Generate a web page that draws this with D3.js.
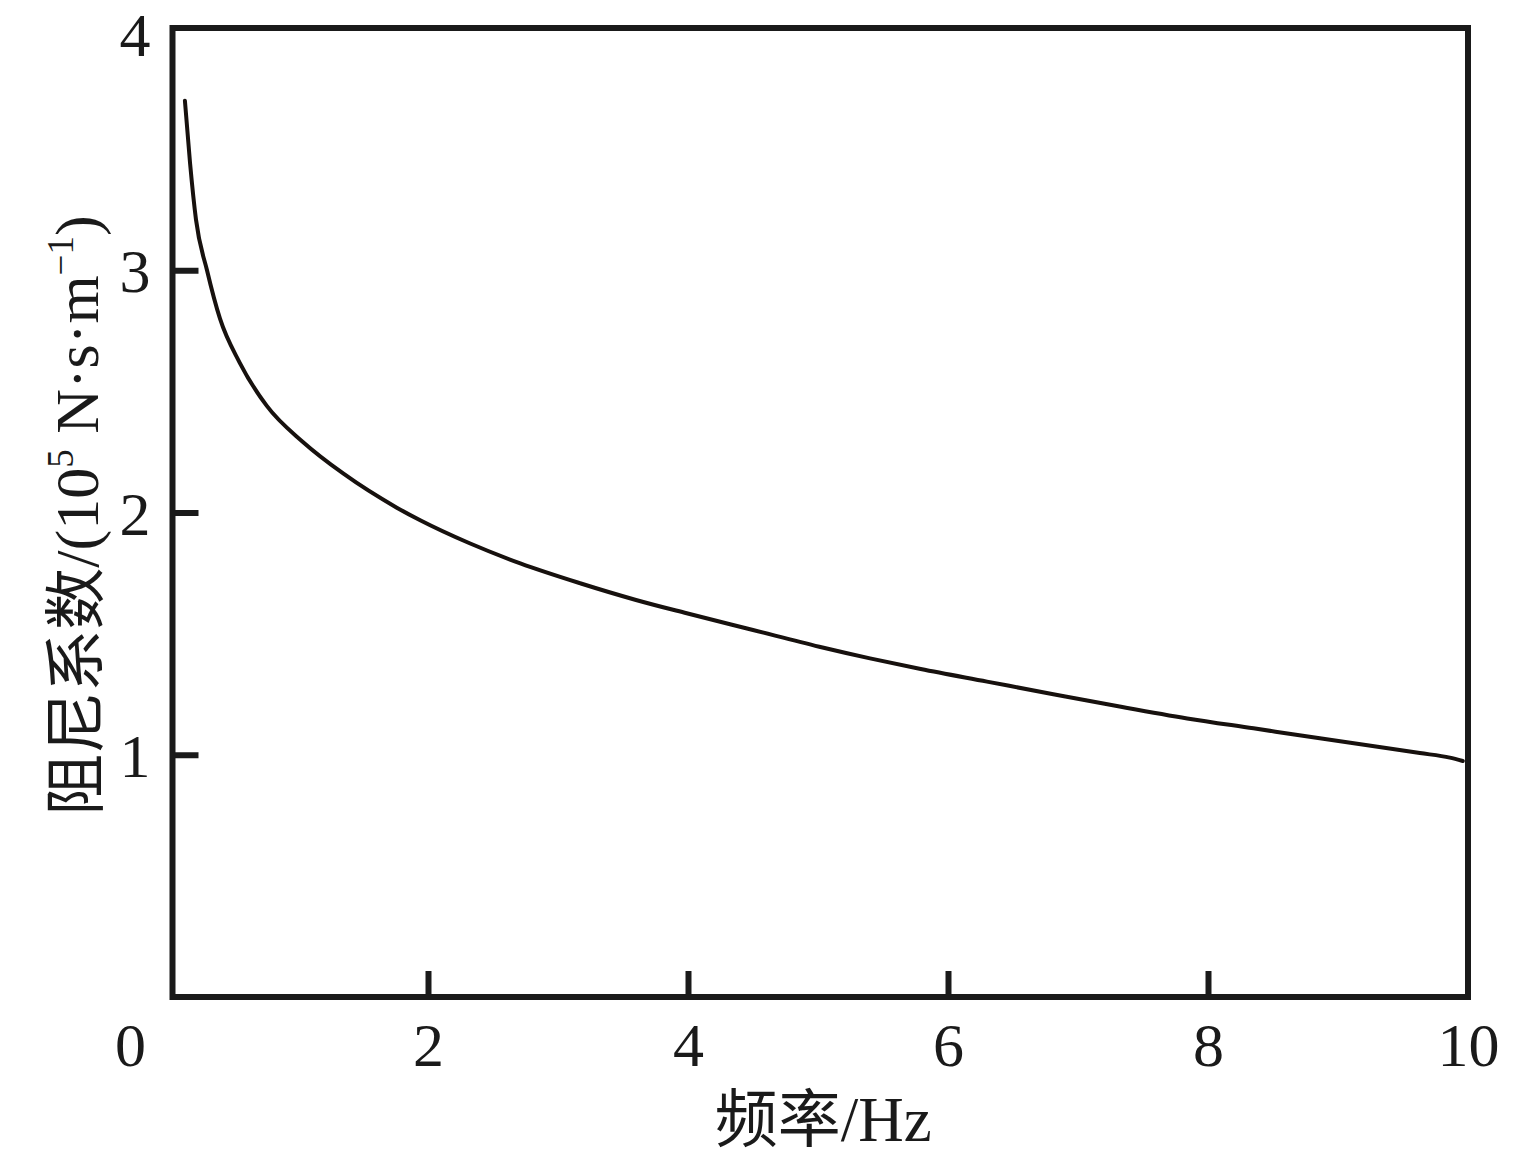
<!DOCTYPE html>
<html>
<head>
<meta charset="utf-8">
<script src="https://cdn.jsdelivr.net/npm/d3@7"></script>
<style>
  html, body { margin: 0; padding: 0; background: #ffffff; }
  svg text { font-family: "Liberation Serif", "Noto Sans CJK SC", serif; fill: #1a1a1a; }
</style>
</head>
<body>
<svg id="chart" width="1521" height="1161"></svg>
<script>
// ---- data ----
const freq = [0.13, 0.17, 0.215, 0.30, 0.40, 0.55, 0.76, 1.04, 1.35, 1.76, 1.94, 2.32, 2.71, 3.17, 3.60, 3.99, 4.50, 5.01, 5.40, 5.79, 6.30, 6.81, 7.32, 7.84, 8.35, 8.86, 9.37, 9.63, 9.86, 9.96];
const damping = [3.70, 3.44, 3.21, 3.00, 2.80, 2.62, 2.44, 2.29, 2.16, 2.02, 1.968, 1.873, 1.790, 1.708, 1.639, 1.584, 1.515, 1.446, 1.398, 1.354, 1.302, 1.250, 1.199, 1.150, 1.109, 1.068, 1.028, 1.007, 0.988, 0.974];
const xTicks = [0, 2, 4, 6, 8, 10];
const xTickMarks = [2, 4, 6, 8];
const yTicks = [1, 2, 3, 4];
const yTickMarks = [1, 2, 3];
const xTitle = "频率/Hz";
const yTitleParts = ["阻尼系数/(10", "5", " N·s·m", "−1", ")"];

// ---- layout ----
const svg = d3.select("#chart");
const x = d3.scaleLinear().domain([0, 10]).range([168, 1468]);
const y = d3.scaleLinear().domain([0, 4]).range([997, 28]);
const frameLeft = x(0) + 4.5;
const ink = "#1a1a1a";
const fontSize = 62;

// frame
svg.append("rect")
  .attr("x", frameLeft).attr("y", y(4))
  .attr("width", x(10) - frameLeft).attr("height", y(0) - y(4))
  .attr("fill", "none").attr("stroke", ink).attr("stroke-width", 6);

// x axis tick marks (inward)
const xMarks = svg.append("g").attr("transform", `translate(0,${y(0)})`)
  .call(d3.axisBottom(x).tickValues(xTickMarks).tickSizeInner(-26).tickSizeOuter(0).tickFormat(""));
xMarks.select(".domain").remove();
xMarks.selectAll(".tick line").attr("stroke", ink).attr("stroke-width", 6);

// x axis labels
const xLab = svg.append("g").attr("transform", `translate(0,${y(0)})`)
  .call(d3.axisBottom(x).tickValues(xTicks).tickSize(0).tickPadding(25).tickFormat(d3.format("d")));
xLab.select(".domain").remove();
xLab.selectAll(".tick text")
  .attr("font-size", fontSize)
  .attr("font-family", "Liberation Serif")
  .attr("fill", ink)
  .attr("dx", d => d === 0 ? -38 : 0);

// y axis tick marks (inward)
const yMarks = svg.append("g").attr("transform", `translate(${frameLeft},0)`)
  .call(d3.axisLeft(y).tickValues(yTickMarks).tickSizeInner(-26).tickSizeOuter(0).tickFormat(""));
yMarks.select(".domain").remove();
yMarks.selectAll(".tick line").attr("stroke", ink).attr("stroke-width", 6);

// y axis labels
const yLab = svg.append("g").attr("transform", `translate(${frameLeft},0)`)
  .call(d3.axisLeft(y).tickValues(yTicks).tickSize(0).tickPadding(22).tickFormat(d3.format("d")));
yLab.select(".domain").remove();
yLab.selectAll(".tick text")
  .attr("font-size", fontSize)
  .attr("font-family", "Liberation Serif")
  .attr("fill", ink)
  .attr("dy", d => d === 4 ? "0.445em" : "0.35em");

// curve
const pts = freq.map((f, i) => [f, damping[i]]);
svg.append("path")
  .datum(pts)
  .attr("fill", "none")
  .attr("stroke", "#17110e")
  .attr("stroke-width", 4)
  .attr("stroke-linecap", "round")
  .attr("stroke-linejoin", "round")
  .attr("d", d3.line().x(d => x(d[0])).y(d => y(d[1])).curve(d3.curveMonotoneX));

// x title
svg.append("text")
  .attr("x", (frameLeft + x(10)) / 2 + 3)
  .attr("y", 1141)
  .attr("text-anchor", "middle")
  .attr("font-size", 63)
  .text(xTitle);

// y title
const yt = svg.append("text")
  .attr("transform", `translate(98,${(y(0) + y(4)) / 2 + 3}) rotate(-90)`)
  .attr("text-anchor", "middle")
  .attr("font-size", 62);
yt.append("tspan").text(yTitleParts[0]);
yt.append("tspan").attr("font-size", 37).attr("dy", -25).text(yTitleParts[1]);
yt.append("tspan").attr("dy", 25).text(yTitleParts[2]);
yt.append("tspan").attr("font-size", 37).attr("dy", -25).text(yTitleParts[3]);
yt.append("tspan").attr("dy", 25).text(yTitleParts[4]);
</script>
</body>
</html>
